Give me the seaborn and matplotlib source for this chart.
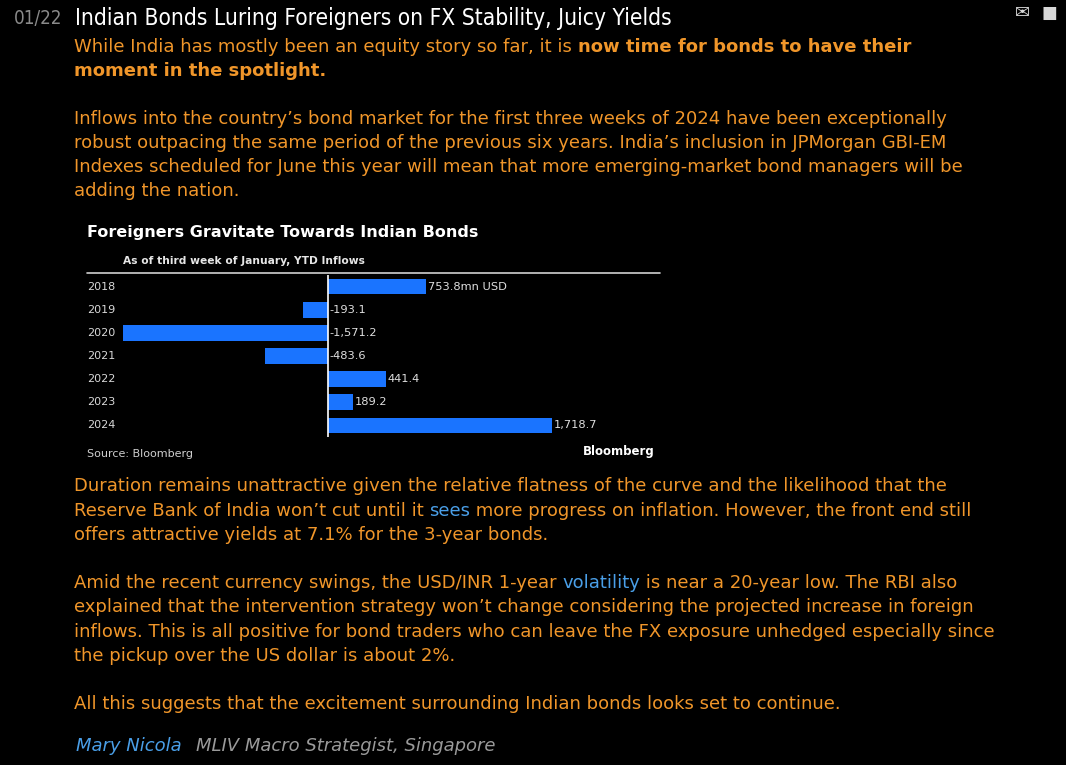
import numpy as np
import pandas as pd
import seaborn as sns
import matplotlib.pyplot as plt

# chart data
years = ['2018', '2019', '2020', '2021', '2022', '2023', '2024']
inflows = [753.8, -193.1, -1571.2, -483.6, 441.4, 189.2, 1718.7]
value_labels = ['753.8mn USD', '-193.1', '-1,571.2', '-483.6', '441.4', '189.2', '1,718.7']

# article text
headline = 'Indian Bonds Luring Foreigners on FX Stability, Juicy Yields'
para1 = [
    [('While India has mostly been an equity story so far, it is ', 'n'), ('now time for bonds to have their', 'b')],
    [('moment in the spotlight.', 'b')],
]
para2 = [
    'Inflows into the country\u2019s bond market for the first three weeks of 2024 have been exceptionally',
    'robust outpacing the same period of the previous six years. India\u2019s inclusion in JPMorgan GBI-EM',
    'Indexes scheduled for June this year will mean that more emerging-market bond managers will be',
    'adding the nation.',
]
para3 = [
    [('Duration remains unattractive given the relative flatness of the curve and the likelihood that the', 'n')],
    [('Reserve Bank of India won\u2019t cut until it ', 'n'), ('sees', 'l'), (' more progress on inflation. However, the front end still', 'n')],
    [('offers attractive yields at 7.1% for the 3-year bonds.', 'n')],
]
para4 = [
    [('Amid the recent currency swings, the USD/INR 1-year ', 'n'), ('volatility', 'l'), (' is near a 20-year low. The RBI also', 'n')],
    [('explained that the intervention strategy won\u2019t change considering the projected increase in foreign', 'n')],
    [('inflows. This is all positive for bond traders who can leave the FX exposure unhedged especially since', 'n')],
    [('the pickup over the US dollar is about 2%.', 'n')],
]
para5 = 'All this suggests that the excitement surrounding Indian bonds looks set to continue.'

ORANGE = '#f0962a'
LINK = '#4a9fe8'
BAR = '#1a74ff'
W, H = 1066, 765
BODY = 13

sns.set_theme(style='dark')
plt.rcParams['font.family'] = ['DejaVu Sans']

fig = plt.figure(figsize=(W / 100, H / 100), dpi=100)
fig.patch.set_facecolor('black')
renderer = fig.canvas.get_renderer()


def px(x, y):
    return x / W, 1 - y / H


def put_line(segments, x, y, size=BODY):
    # draws pieces of one line next to each other
    for txt, kind in segments:
        weight = 'bold' if kind == 'b' else 'normal'
        color = LINK if kind == 'l' else ORANGE
        t = fig.text(*px(x, y), txt, color=color, fontsize=size, fontweight=weight,
                     va='center', ha='left')
        bb = t.get_window_extent(renderer=renderer)
        x = x + bb.width


# header
fig.text(*px(14, 18), '01/22', color='#8a8a8a', fontsize=13.5, fontstretch='condensed', va='center')
fig.text(*px(75, 18), headline, color='white', fontsize=16.3, fontstretch='condensed', va='center')
fig.text(*px(1022, 13), '\u2709', color='#d8d8d8', fontsize=13, va='center', ha='center')
fig.text(*px(1049, 13), '\u25a0', color='#d8d8d8', fontsize=12, va='center', ha='center')

y = 47
for seg in para1:
    put_line(seg, 74, y)
    y += 24
y = 119
for line in para2:
    put_line([(line, 'n')], 74, y)
    y += 24
y = 486
for seg in para3:
    put_line(seg, 74, y)
    y += 24.5
y = 583
for seg in para4:
    put_line(seg, 74, y)
    y += 24.3
put_line([(para5, 'n')], 74, 704)

t = fig.text(*px(76, 746), 'Mary Nicola', color=LINK, fontsize=BODY, style='italic', va='center')
bb = t.get_window_extent(renderer=renderer)
fig.text(*px(76 + bb.width + 14, 746), 'MLIV Macro Strategist, Singapore', color='#9a9a9a',
         fontsize=BODY, style='italic', va='center')

# embedded chart
fig.text(*px(87, 232), 'Foreigners Gravitate Towards Indian Bonds', color='white',
         fontsize=11.5, fontweight='bold', va='center')
fig.text(*px(123, 261), 'As of third week of January, YTD Inflows', color='#e6e6e6',
         fontsize=7.7, fontweight='bold', va='center')
fig.add_artist(plt.Line2D([87 / W, 660 / W], [1 - 273 / H, 1 - 273 / H], color='#d0d0d0', lw=1.2))
fig.text(*px(87, 454), 'Source: Bloomberg', color='#cfcfcf', fontsize=8, va='center')
fig.text(*px(655, 452), 'Bloomberg', color='white', fontsize=8.5, fontweight='bold', va='center', ha='right')

x0, x1 = 87, 660
top, bottom = 275, 437
ax = fig.add_axes([x0 / W, 1 - bottom / H, (x1 - x0) / W, (bottom - top) / H])
ax.set_facecolor('black')

df = pd.DataFrame({'year': years, 'inflow': inflows})
sns.barplot(data=df, x='inflow', y='year', orient='h', color=BAR, width=0.68,
            saturation=1, linewidth=0, edgecolor='none', ax=ax)

zero = 328
scale = (zero - 123) / abs(min(inflows))
ax.set_xlim(-(zero - x0) / scale, (x1 - zero) / scale)
ax.set_ylim(len(years) - 0.5, -0.5)
ax.axvline(0, color='white', lw=1.2)

for i, (v, lab) in enumerate(zip(inflows, value_labels)):
    ax.text(max(v, 0) + 12, i, lab, color='#e0e0e0', fontsize=8.2, va='center', ha='left')
    ax.text(0.0, i, years[i], color='#d8d8d8', fontsize=8, va='center', ha='left',
            transform=ax.get_yaxis_transform())

ax.set_xticks([])
ax.set_yticks([])
ax.set_xlabel('')
ax.set_ylabel('')
for s in ax.spines.values():
    s.set_visible(False)

fig.savefig('out.png', dpi=100, facecolor='black')
